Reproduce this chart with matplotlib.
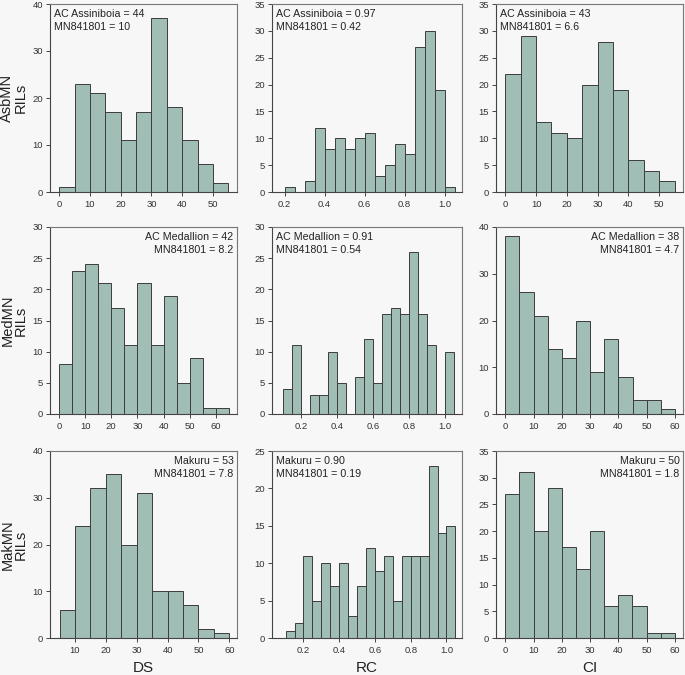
import numpy as np
import matplotlib
matplotlib.use("Agg")
import matplotlib.pyplot as plt

plt.rcParams['font.family'] = ['Liberation Sans', 'DejaVu Sans']

# DATOS (conteos por clase del histograma)
ds_asb = [1, 23, 21, 17, 11, 17, 37, 18, 11, 6, 2]
rc_asb = [1, 0, 2, 12, 8, 10, 8, 10, 11, 3, 5, 9, 7, 27, 30, 19, 1]
ci_asb = [22, 29, 13, 11, 10, 20, 28, 19, 6, 4, 2]
ds_med = [8, 23, 24, 21, 17, 11, 21, 11, 19, 5, 9, 1, 1]
rc_med = [4, 11, 0, 3, 3, 10, 5, 0, 6, 12, 5, 16, 17, 16, 26, 16, 11, 0, 10]
ci_med = [38, 26, 21, 14, 12, 20, 9, 16, 8, 3, 3, 1]
ds_mak = [6, 24, 32, 35, 20, 31, 10, 10, 7, 2, 1]
rc_mak = [1, 2, 11, 5, 10, 7, 10, 3, 7, 12, 9, 11, 5, 11, 11, 11, 23, 14, 15]
ci_mak = [27, 31, 20, 28, 17, 13, 20, 6, 8, 6, 1, 1]

# inicio de la primera clase y ancho de clase
ds_start = [0, 0, 5]
rc_start = [0.20, 0.10, 0.10]
ci_start = [0, 0, 0]
ds_width, rc_width, ci_width = 5, 0.05, 5

rows = ["AsbMN", "MedMN", "MakMN"]
cols = ["DS", "RC", "CI"]
counts = [[ds_asb, rc_asb, ci_asb],
          [ds_med, rc_med, ci_med],
          [ds_mak, rc_mak, ci_mak]]
starts = [ds_start, rc_start, ci_start]
widths = [ds_width, rc_width, ci_width]

notes = [["AC Assiniboia = 44\nMN841801 = 10", "AC Assiniboia = 0.97\nMN841801 = 0.42", "AC Assiniboia = 43\nMN841801 = 6.6"],
         ["AC Medallion = 42\nMN841801 = 8.2", "AC Medallion = 0.91\nMN841801 = 0.54", "AC Medallion = 38\nMN841801 = 4.7"],
         ["Makuru = 53\nMN841801 = 7.8", "Makuru = 0.90\nMN841801 = 0.19", "Makuru = 50\nMN841801 = 1.8"]]
noteSide = [["left", "left", "left"],
            ["right", "left", "right"],
            ["right", "left", "right"]]

yMax = [[40, 35, 35], [30, 30, 40], [40, 25, 35]]
yStep = [[10, 5, 5], [5, 5, 10], [10, 5, 5]]
xTicks = [[np.arange(0, 51, 10), np.arange(0.2, 1.01, 0.2), np.arange(0, 51, 10)],
          [np.arange(0, 61, 10), np.arange(0.2, 1.01, 0.2), np.arange(0, 61, 10)],
          [np.arange(10, 61, 10), np.arange(0.2, 1.01, 0.2), np.arange(0, 61, 10)]]
xLims = [[(-3, 57.8), (0.137, 1.087), (-3, 57.7)],
         [(-3.4, 68), (0.04, 1.093), (-3.3, 62.8)],
         [(1.9, 62.5), (0.024, 1.087), (-3.3, 62.9)]]

# POSICIONES EN PIXELES
W, H = 685, 675
colL = [50, 272, 496]
colR = [237, 462, 683]
rowT = [4, 227, 451]
rowB = [192, 414, 638]

barColor = "#a0bdb6"
edgeColor = "#3c3c3c"
bg = "#f7f7f7"

fig = plt.figure(figsize=(W / 100, H / 100), dpi=100, facecolor=bg)

for i in range(3):
    for j in range(3):
        l, r, t, b = colL[j], colR[j], rowT[i], rowB[i]
        ax = fig.add_axes([l / W, 1 - b / H, (r - l) / W, (b - t) / H], facecolor=bg)
        c = counts[i][j]
        edges = starts[j][i] + widths[j] * np.arange(len(c))
        ax.bar(edges, c, width=widths[j], align="edge", color=barColor,
               edgecolor=edgeColor, linewidth=0.7)
        ax.set_xlim(*xLims[i][j])
        ax.set_ylim(0, yMax[i][j])
        ax.set_yticks(np.arange(0, yMax[i][j] + 1, yStep[i][j]))
        ax.set_xticks(xTicks[i][j])
        if j == 1:
            ax.set_xticklabels([f"{v:.1f}" for v in xTicks[i][j]])
        ax.tick_params(direction="out", length=3, width=0.7, colors="#444444",
                       labelsize=6.8, pad=2)
        ax.tick_params(axis="x", pad=3)
        for lab in ax.get_xticklabels() + ax.get_yticklabels():
            lab.set_color("#333333")
        for s in ["left", "bottom"]:
            ax.spines[s].set_color("#444444")
            ax.spines[s].set_linewidth(0.8)
        for s in ["top", "right"]:
            ax.spines[s].set_color("#777777")
            ax.spines[s].set_linewidth(0.8)

        if noteSide[i][j] == "left":
            ax.annotate(notes[i][j], xy=(0, 1), xycoords="axes fraction",
                        xytext=(3, -3.5), textcoords="offset points",
                        ha="left", va="top", fontsize=7.7, color="#222222",
                        linespacing=1.4)
        else:
            ax.annotate(notes[i][j], xy=(1, 1), xycoords="axes fraction",
                        xytext=(-2.5, -3.5), textcoords="offset points",
                        ha="right", va="top", fontsize=7.7, color="#222222",
                        linespacing=1.4, multialignment="right")

        if i == 2:
            ax.set_xlabel(cols[j], fontsize=11, color="#222222", labelpad=4)
        if j == 0:
            yc = 1 - (t + b) / 2 / H
            fig.text(14 / W, yc, rows[i] + "\nRILs", rotation=90, ha="center",
                     va="center", multialignment="center", linespacing=0.95,
                     fontsize=10.5, color="#222222")

fig.savefig("out.png", dpi=100, facecolor=bg)
